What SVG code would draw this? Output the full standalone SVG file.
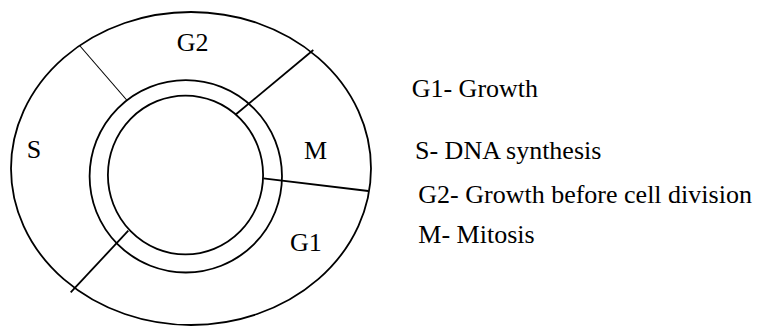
<svg xmlns="http://www.w3.org/2000/svg" width="765" height="329" viewBox="0 0 765 329">
  <style>
    .ring { fill: none; stroke: #000; stroke-width: 1.8; }
    .div { stroke: #000; stroke-width: 1.8; }
    .thin { stroke-width: 1.1; }
  </style>
  <rect width="765" height="329" fill="#fff"/>

  <!-- cell cycle rings -->
  <g id="outer-ring"><ellipse class="ring" cx="191" cy="168.5" rx="180" ry="156.5"/></g>
  <g id="middle-ring"><circle class="ring" cx="185.8" cy="176.3" r="96.2"/></g>
  <g id="inner-ring"><ellipse class="ring" cx="185.5" cy="175" rx="77.6" ry="79.4"/></g>

  <!-- phase dividers -->
  <g id="connectors">
    <line class="div thin" x1="80" y1="46" x2="126.7" y2="100"/>
    <line class="div" x1="313.3" y1="50" x2="236" y2="114.3"/>
    <line class="div" x1="263.3" y1="178.3" x2="368.3" y2="191"/>
    <line class="div" x1="128.3" y1="230.7" x2="70.7" y2="292.3"/>
  </g>

  <g font-family="Liberation Serif, DejaVu Serif, serif" font-size="26" fill="#000">
    <!-- phase labels -->
    <g id="phase-g2"><text x="176.7" y="50.7">G2</text></g>
    <g id="phase-s"><text x="26.7" y="158.3">S</text></g>
    <g id="phase-m"><text x="304" y="159.3">M</text></g>
    <g id="phase-g1"><text x="290" y="250.7">G1</text></g>

    <!-- legend -->
    <g id="legend">
      <text x="411.7" y="97.3">G1- Growth</text>
      <text x="415" y="159.3">S- DNA synthesis</text>
      <text x="418.3" y="202.7">G2- Growth before cell division</text>
      <text x="418.3" y="242.7">M- Mitosis</text>
    </g>
  </g>
</svg>
